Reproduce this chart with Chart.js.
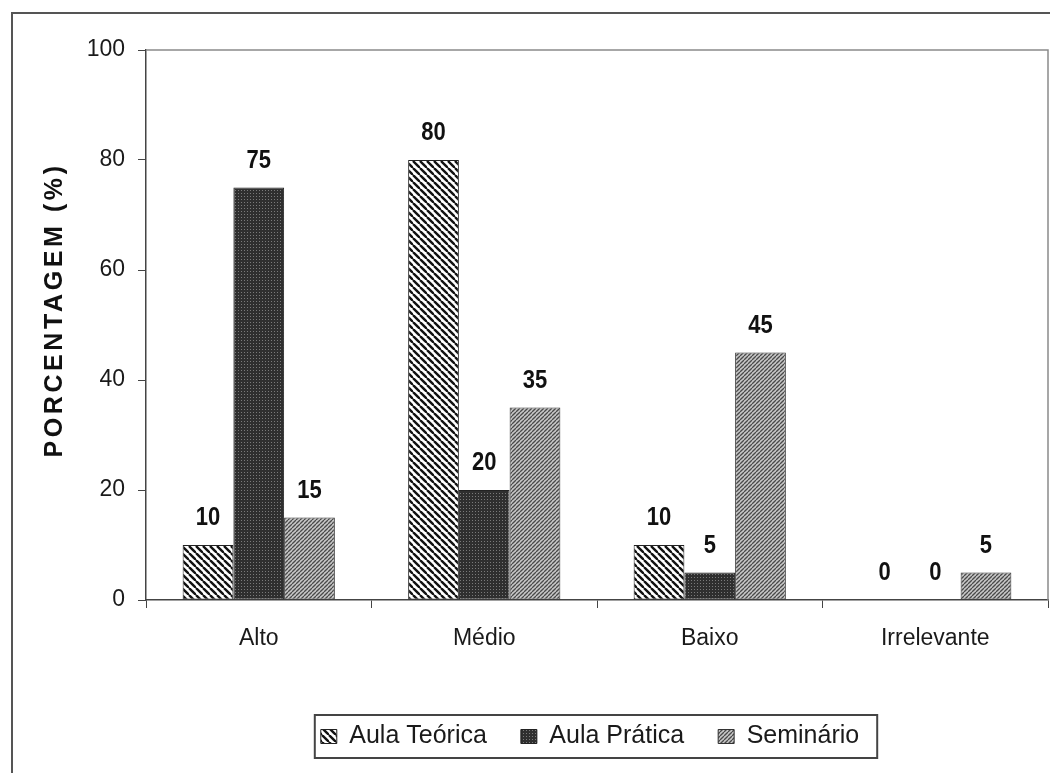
<!DOCTYPE html>
<html>
<head>
<meta charset="utf-8">
<script src="https://cdn.jsdelivr.net/npm/chart.js@4/dist/chart.umd.min.js"></script>
<style>
html, body { margin: 0; padding: 0; background: #fff; }
#wrap { width: 1050px; height: 773px; position: relative; }
</style>
</head>
<body>
<div id="wrap"><canvas id="myChart"></canvas></div>
<script>
const categories = ['Alto', 'Médio', 'Baixo', 'Irrelevante'];
const seriesNames = ['Aula Teórica', 'Aula Prática', 'Seminário'];
const aulaTeorica = [10, 80, 10, 0];
const aulaPratica = [75, 20, 5, 0];
const seminario = [15, 35, 45, 5];
const yMin = 0, yMax = 100, yStep = 20;
const yTitle = 'PORCENTAGEM (%)';

const FONT = '"Liberation Sans", Arial, sans-serif';
Chart.defaults.font.family = FONT;
Chart.defaults.color = '#1a1a1a';

const mainCtx = document.getElementById('myChart').getContext('2d');

// hatch fills, like the old excel patterns
function makePattern(kind) {
    const c = document.createElement('canvas');
    const ctx = c.getContext('2d');
    if (kind === 'teorica') {
        const s = 7;
        c.width = s; c.height = s;
        ctx.fillStyle = '#fff';
        ctx.fillRect(0, 0, s, s);
        ctx.strokeStyle = '#111';
        ctx.lineWidth = 2.4;
        for (const o of [-s, 0, s]) {
            ctx.beginPath(); ctx.moveTo(o, 0); ctx.lineTo(o + s, s); ctx.stroke();
        }
    } else if (kind === 'pratica') {
        c.width = 3; c.height = 3;
        ctx.fillStyle = '#2f2f2f';
        ctx.fillRect(0, 0, 3, 3);
        ctx.fillStyle = '#7a7a7a';
        ctx.fillRect(1, 1, 1, 1);
    } else {
        const s = 4;
        c.width = s; c.height = s;
        ctx.fillStyle = '#c8c8c8';
        ctx.fillRect(0, 0, s, s);
        ctx.strokeStyle = '#4a4a4a';
        ctx.lineWidth = 1.3;
        for (const o of [-s, 0, s]) {
            ctx.beginPath(); ctx.moveTo(o, s); ctx.lineTo(o + s, 0); ctx.stroke();
        }
    }
    return mainCtx.createPattern(c, 'repeat');
}

const LEGEND_SHIFT = 66;

// outer frame, plot frame, y title, value labels, legend box
const decorPlugin = {
    id: 'decor',
    afterLayout(chart) {
        // the legend sits a bit right of centre in the original
        const lg = chart.legend;
        lg.left += LEGEND_SHIFT;
        lg.right += LEGEND_SHIFT;
        lg.legendHitBoxes.forEach(b => { b.left += LEGEND_SHIFT; });
    },
    beforeDraw(chart) {
        const ctx = chart.ctx;
        ctx.save();
        ctx.strokeStyle = '#555';
        ctx.lineWidth = 2;
        ctx.strokeRect(12, 13, 1200, 900);
        ctx.restore();
    },
    afterDatasetsDraw(chart) {
        const ctx = chart.ctx;
        const a = chart.chartArea;
        ctx.save();
        ctx.strokeStyle = '#8a8a8a';
        ctx.lineWidth = 1.5;
        ctx.beginPath();
        ctx.moveTo(a.left, a.top);
        ctx.lineTo(a.right, a.top);
        ctx.lineTo(a.right, a.bottom);
        ctx.stroke();

        ctx.fillStyle = '#111';
        ctx.font = 'bold 25px ' + FONT;
        ctx.textAlign = 'center';
        ctx.textBaseline = 'alphabetic';
        chart.data.datasets.forEach((ds, i) => {
            chart.getDatasetMeta(i).data.forEach((bar, j) => {
                ctx.save();
                ctx.translate(bar.x, bar.y - 20);
                ctx.scale(0.88, 1);
                ctx.fillText(String(ds.data[j]), 0, 0);
                ctx.restore();
            });
        });

        ctx.translate(55, 310);
        ctx.rotate(-Math.PI / 2);
        ctx.font = 'bold 25px ' + FONT;
        ctx.letterSpacing = '3.6px';
        ctx.textBaseline = 'middle';
        ctx.fillText(yTitle, 0, 0);
        ctx.restore();
    },
    afterDraw(chart) {
        const boxes = chart.legend.legendHitBoxes;
        if (!boxes || !boxes.length) return;
        const left = Math.min(...boxes.map(b => b.left)) - 6;
        const right = Math.max(...boxes.map(b => b.left + b.width)) + 18;
        const top = Math.min(...boxes.map(b => b.top)) - 9;
        const bottom = Math.max(...boxes.map(b => b.top + b.height)) + 9;
        const ctx = chart.ctx;
        ctx.save();
        ctx.strokeStyle = '#444';
        ctx.lineWidth = 2;
        ctx.strokeRect(left, top, right - left, bottom - top);
        ctx.restore();
    }
};

new Chart('myChart', {
    type: 'bar',
    data: {
        labels: categories,
        datasets: [
            {
                label: seriesNames[0],
                data: aulaTeorica,
                backgroundColor: makePattern('teorica'),
                borderColor: '#222',
                borderWidth: 1,
                borderSkipped: false
            },
            {
                label: seriesNames[1],
                data: aulaPratica,
                backgroundColor: makePattern('pratica'),
                borderColor: '#222',
                borderWidth: 1,
                borderSkipped: false
            },
            {
                label: seriesNames[2],
                data: seminario,
                backgroundColor: makePattern('seminario'),
                borderColor: '#333',
                borderWidth: 1,
                borderSkipped: false
            }
        ]
    },
    options: {
        responsive: true,
        maintainAspectRatio: false,
        animation: false,
        categoryPercentage: 0.675,
        barPercentage: 1,
        layout: { padding: { top: 50, right: 2, left: 0, bottom: 14 } },
        plugins: {
            tooltip: { enabled: false },
            legend: {
                position: 'bottom',
                labels: {
                    font: { size: 25 },
                    color: '#1a1a1a',
                    boxWidth: 16,
                    boxHeight: 14,
                    padding: 34
                }
            }
        },
        scales: {
            x: {
                grid: {
                    display: true,
                    drawOnChartArea: false,
                    drawTicks: true,
                    tickLength: 8,
                    color: '#444',
                    offset: true
                },
                border: { display: true, color: '#444', width: 1.5 },
                ticks: { font: { size: 23 }, color: '#1a1a1a', padding: 17 },
                afterFit(scale) { scale.height = 90; }
            },
            y: {
                min: yMin,
                max: yMax,
                grid: {
                    display: true,
                    drawOnChartArea: false,
                    drawTicks: true,
                    tickLength: 8,
                    color: '#444'
                },
                border: { display: true, color: '#444', width: 1.5 },
                ticks: { stepSize: yStep, font: { size: 23 }, color: '#1a1a1a', padding: 13 },
                afterFit(scale) { scale.width = 146; }
            }
        }
    },
    plugins: [decorPlugin]
});
</script>
</body>
</html>
